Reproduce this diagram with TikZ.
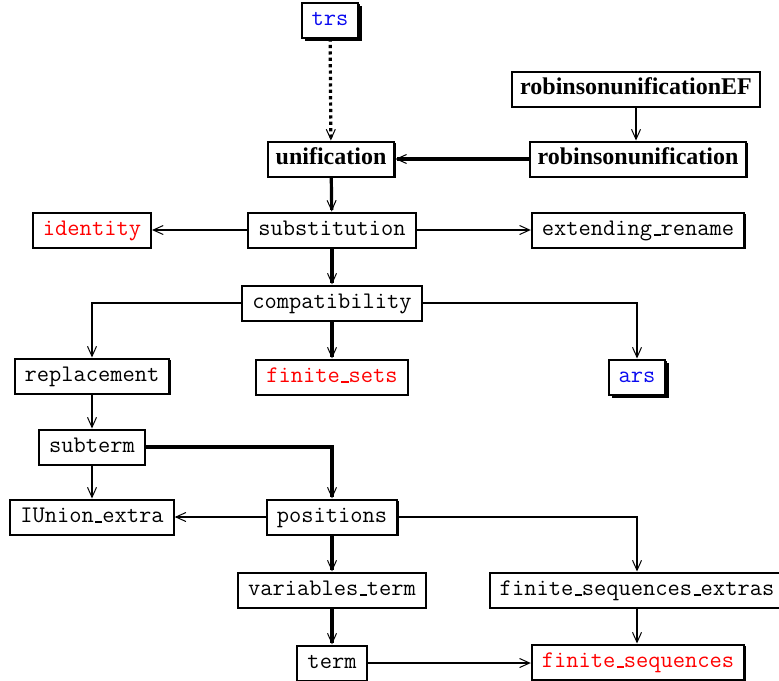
\documentclass[tikz,border=0pt]{standalone}
\usepackage{fontspec}
\setmainfont{Liberation Serif}
\usetikzlibrary{arrows.meta,shadows}
\definecolor{modred}{RGB}{255,0,0}
\definecolor{modblue}{RGB}{10,10,240}
\newcommand{\usc}{\leavevmode\kern.06em\vbox{\hrule width.3em height 0.6pt}}
\tikzset{
  mod/.style={draw, fill=white, line width=1pt, inner xsep=5pt, inner ysep=3.5pt,
    text height=8pt, text depth=2.5pt, font=\fontsize{11.9}{14}\selectfont\ttfamily,
    drop shadow={shadow xshift=0.7pt, shadow yshift=-0.7pt, fill=black, opacity=1}},
  boldmod/.style={mod, inner xsep=4pt, font=\fontsize{12}{14}\selectfont\bfseries},
  ext/.style={mod, drop shadow={shadow xshift=1.6pt, shadow yshift=-1.6pt, fill=black, opacity=1}},
  tip/.style={-{Straight Barb[length=5pt,width=4.5pt,line width=0.5pt]}},
  thin/.style={tip, line width=0.9pt},
  thick/.style={tip, line width=1.6pt},
  dotedge/.style={tip, line width=1.6pt, dash pattern=on 1.6pt off 1.6pt}
}
\begin{document}
\begin{tikzpicture}[x=0.5pt,y=-0.5pt]
\useasboundingbox (0,0) rectangle (779,680);
\node[ext, text=modblue] (trs) at (330,20) {trs};
\node[boldmod] (robEF) at (636,89) {robinsonunificationEF};
\node[boldmod] (unif) at (331,159) {unification};
\node[boldmod] (rob) at (638,159) {robinsonunification};
\node[mod, text=modred] (ident) at (92,230) {identity};
\node[mod] (subst) at (332,230) {substitution};
\node[mod] (extren) at (638,230) {extending\usc rename};
\node[mod] (compat) at (332,303) {compatibility};
\node[mod] (repl) at (92,376) {replacement};
\node[mod, text=modred] (fsets) at (332,377) {finite\usc sets};
\node[ext, text=modblue] (ars) at (637,377) {ars};
\node[mod] (subterm) at (92,447) {subterm};
\node[mod] (iunion) at (92,517) {IUnion\usc extra};
\node[mod] (pos) at (332,517) {positions};
\node[mod] (varterm) at (332,590) {variables\usc term};
\node[mod] (fsext) at (637,590) {finite\usc sequences\usc extras};
\node[mod] (term) at (332,663) {term};
\node[mod, text=modred] (fseq) at (638,662) {finite\usc sequences};

\draw[dotedge] (trs) -- (unif);
\draw[thin] (robEF) -- (robEF |- rob.north);
\draw[thick] (rob) -- (unif);
\draw[thick] (unif) -- (subst);
\draw[thin] (subst) -- (ident);
\draw[thin] (subst) -- (extren);
\draw[thick] (subst) -- (compat);
\draw[thin] (compat) -| (repl);
\draw[thick] (compat) -- (fsets);
\draw[thin] (compat) -| (ars);
\draw[thin] (repl) -- (subterm);
\draw[thin] (subterm) -- (iunion);
\draw[thick] (subterm) -| (pos);
\draw[thin] (pos) -- (iunion);
\draw[thin] (pos) -| (fsext);
\draw[thick] (pos) -- (varterm);
\draw[thick] (varterm) -- (term);
\draw[thin] (fsext) -- (fsext |- fseq.north);
\draw[thin] (term) -- (term -| fseq.west);
\end{tikzpicture}
\end{document}
